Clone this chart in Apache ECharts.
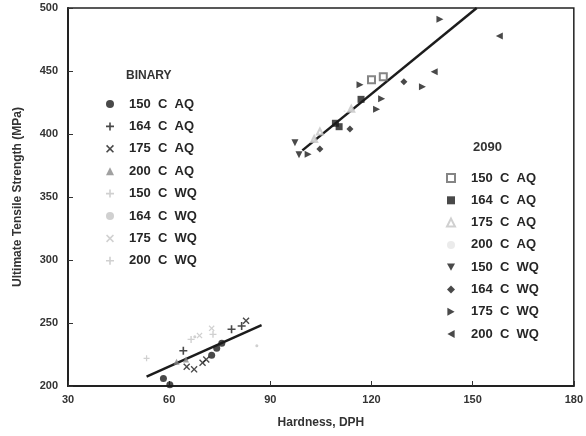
<!DOCTYPE html>
<html>
<head>
<meta charset="utf-8">
<title>Hardness vs UTS</title>
<script src="https://cdn.jsdelivr.net/npm/echarts@6/dist/echarts.min.js"></script>
</head>
<body style="margin:0">
<div id="main" style="width:586px;height:436px;"></div>
<script type="text/javascript">
// axis ticks
var xTicks = [30, 60, 90, 120, 150, 180];
var yTicks = [200, 250, 300, 350, 400, 450, 500];

// binary alloy points [hardness, UTS]
var b150AQ = [[58.3, 206], [60.2, 201], [72.6, 224.5], [74.1, 230], [75.6, 234]];
var b164AQ = [[64.2, 228], [78.5, 245], [81.5, 247.6]];
var b175AQ = [[65.2, 215.3], [67.4, 213.2], [69.9, 218.5], [71, 221], [82.8, 251.8]];
var b200AQ = [[62.2, 219.3], [65, 221]];
var b150WQ = [[53.3, 222]];
var b164WQ = [[67.6, 239], [86, 232]];
var b175WQ = [[72.6, 245.8], [69, 240]];
var b200WQ = [[73, 241], [66.5, 237]];
var binaryFit = [[53.3, 207.5], [87.4, 248.4]];

// 2090 alloy points
var a150AQ = [[120, 443], [123.5, 445.5]];
var a164AQ = [[116.9, 427.5], [110.4, 405.8], [109.3, 408.5]];
var a175AQ = [[103, 396], [104.7, 402], [114, 420]];
var a200AQ = [[112, 418]];
var a150WQ = [[97.3, 393], [98.5, 383.5]];
var a164WQ = [[104.7, 388], [113.6, 404], [129.6, 441.5]];
var a175WQ = [[101.2, 384], [116.6, 439], [123, 428], [121.5, 419.6], [140.3, 491], [135.1, 437.5]];
var a200WQ = [[157.9, 477.8], [138.6, 449.5]];
var alloyFit = [[99.5, 387], [151.2, 500]];

var binaryNames = ['B 150 C AQ', 'B 164 C AQ', 'B 175 C AQ', 'B 200 C AQ', 'B 150 C WQ', 'B 164 C WQ', 'B 175 C WQ', 'B 200 C WQ'];
var alloyNames = ['A 150 C AQ', 'A 164 C AQ', 'A 175 C AQ', 'A 200 C AQ', 'A 150 C WQ', 'A 164 C WQ', 'A 175 C WQ', 'A 200 C WQ'];

var plusPath = 'path://M4,0H6V4H10V6H6V10H4V6H0V4H4Z';
var crossPath = 'path://M1.4,0L5,3.6L8.6,0L10,1.4L6.4,5L10,8.6L8.6,10L5,6.4L1.4,10L0,8.6L3.6,5L0,1.4Z';
var downTri = 'path://M0,0L10,0L5,9Z';
var rightTri = 'path://M0,0L9,5L0,10Z';
var leftTri = 'path://M9,0L0,5L9,10Z';
var dark = '#1c1c1c';
var faint = '#c4c4c4';

function pts(name, data, symbol, size, color) {
    return {
        name: name, type: 'scatter', data: data,
        symbol: symbol, symbolSize: size,
        itemStyle: { color: color }
    };
}

var labelFont = { fontFamily: 'Liberation Sans', fontWeight: 'bold', fontSize: 11, color: '#333' };
function legendText(pad) {
    return {
        fontFamily: 'Liberation Sans', fontWeight: 'bold', fontSize: 13, color: '#262626',
        lineHeight: 14, padding: [0, 0, 0, pad]
    };
}
// drop the group prefix and space the words as in the print
function legendLabel(n) { return n.slice(2).split(' ').join('  '); }

var myChart = echarts.init(document.getElementById('main'));
var option = {
    backgroundColor: '#fff',
    animation: false,
    title: [
        { text: 'BINARY', left: 121, top: 65, textStyle: { fontFamily: 'Liberation Sans', fontWeight: 'bold', fontSize: 12, color: '#333' } },
        { text: '2090', left: 468, top: 136, textStyle: { fontFamily: 'Liberation Sans', fontWeight: 'bold', fontSize: 13, color: '#333' } }
    ],
    legend: [
        {
            data: binaryNames, orient: 'vertical', left: 101, top: 92,
            itemWidth: 8, itemHeight: 8, itemGap: 8.4,
            textStyle: legendText(10), selectedMode: false,
            formatter: legendLabel
        },
        {
            data: alloyNames, orient: 'vertical', left: 441, top: 166,
            itemWidth: 8, itemHeight: 8, itemGap: 8.3,
            textStyle: legendText(11), selectedMode: false,
            formatter: legendLabel
        }
    ],
    grid: { left: 68, right: 12, top: 8, bottom: 50, show: true, borderColor: '#222', borderWidth: 1.5 },
    xAxis: {
        type: 'value', min: xTicks[0], max: xTicks[xTicks.length - 1], interval: 30,
        name: 'Hardness, DPH', nameLocation: 'middle', nameGap: 31,
        nameTextStyle: { fontFamily: 'Liberation Sans', fontWeight: 'bold', fontSize: 12, color: '#333' },
        axisLine: { lineStyle: { color: '#222', width: 2 } },
        axisTick: { inside: true, length: 5, lineStyle: { color: '#333' } },
        axisLabel: labelFont, splitLine: { show: false }
    },
    yAxis: {
        type: 'value', min: yTicks[0], max: yTicks[yTicks.length - 1], interval: 50,
        name: 'Ultimate Tensile Strength (MPa)', nameLocation: 'middle', nameGap: 44,
        nameTextStyle: { fontFamily: 'Liberation Sans', fontWeight: 'bold', fontSize: 12, color: '#333' },
        axisLine: { lineStyle: { color: '#222', width: 2 } },
        axisTick: { inside: true, length: 5, lineStyle: { color: '#333' } },
        axisLabel: Object.assign({ margin: 10 }, labelFont), splitLine: { show: false }
    },
    series: [
        { type: 'line', data: binaryFit, symbol: 'none', lineStyle: { color: dark, width: 2.5 }, z: 1 },
        { type: 'line', data: alloyFit, symbol: 'none', lineStyle: { color: dark, width: 2.5 }, z: 1 },
        pts(binaryNames[0], b150AQ, 'circle', 7, dark),
        pts(binaryNames[1], b164AQ, plusPath, 8, dark),
        pts(binaryNames[2], b175AQ, crossPath, 7, dark),
        pts(binaryNames[3], b200AQ, 'triangle', 6, '#888'),
        pts(binaryNames[4], b150WQ, plusPath, 6, faint),
        pts(binaryNames[5], b164WQ, 'circle', 3, faint),
        pts(binaryNames[6], b175WQ, crossPath, 6, faint),
        pts(binaryNames[7], b200WQ, plusPath, 7, faint),
        pts(alloyNames[0], a150AQ, 'emptyRect', 7, '#666'),
        pts(alloyNames[1], a164AQ, 'rect', 7, dark),
        pts(alloyNames[2], a175AQ, 'emptyTriangle', 6, faint),
        pts(alloyNames[3], a200AQ, 'circle', 2, '#e6e6e6'),
        pts(alloyNames[4], a150WQ, downTri, 7, dark),
        pts(alloyNames[5], a164WQ, 'diamond', 7, dark),
        pts(alloyNames[6], a175WQ, rightTri, 7, dark),
        pts(alloyNames[7], a200WQ, leftTri, 7, dark)
    ]
};
myChart.setOption(option);
</script>
</body>
</html>
